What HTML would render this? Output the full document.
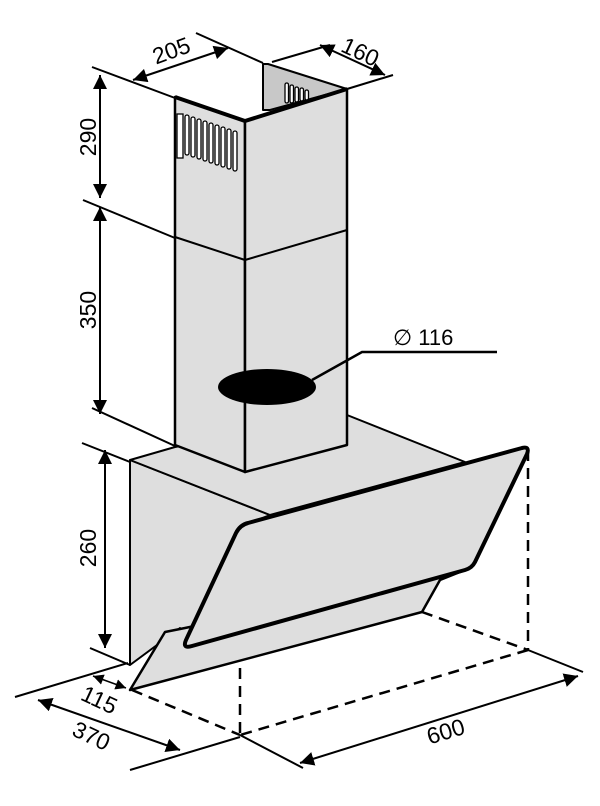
<!DOCTYPE html>
<html><head><style>html,body{margin:0;padding:0;background:#fff}svg{display:block}</style></head>
<body>
<svg width="600" height="806" viewBox="0 0 600 806" xmlns="http://www.w3.org/2000/svg" font-family="Liberation Sans, sans-serif">
<defs>
<marker id="a" viewBox="0 0 10 10" refX="10" refY="5" markerWidth="7" markerHeight="7" orient="auto-start-reverse"><path d="M0,0 L10,5 L0,10 z" fill="#000"/></marker>
</defs>
<g stroke="#000" fill="#dedede" stroke-linejoin="round">
<polygon points="130,460 270,515 245,525 185,648 180,628 130,665" stroke-width="2"/>
<polygon points="130,460 175,447 347,415 465,462 270,515" stroke-width="2"/>
<polygon points="130,690 165,632 185,628 470,568 440,580 422,612" stroke-width="2.5"/>
<path d="M248,523 L522,448 Q530,446 527,454 L475,562 Q472,568 465,570 L192,646 Q182,649 186,640 L236,533 Q240,525 248,523 Z" stroke-width="4"/>
<polygon points="263,64 268,64 347,89 270,110 263,110" fill="#c8c8c8" stroke-width="2"/>
<polygon points="175,97 245,121 245,472 175,445" stroke-width="2.5"/>
<polygon points="245,121 347,89 347,445 245,472" stroke-width="2.5"/>
<line x1="175" y1="237" x2="245" y2="260" stroke-width="2"/>
<line x1="245" y1="260" x2="347" y2="230" stroke-width="2"/>
<line x1="175" y1="97" x2="245" y2="121" stroke-width="4"/>
<line x1="245" y1="121" x2="347" y2="89" stroke-width="4"/>
</g>
<g fill="#fff" stroke="#000" stroke-width="1.3">
<rect x="177" y="114" width="6" height="44"/>
<rect x="185" y="115" width="4" height="40" rx="2"/>
<rect x="191" y="117" width="4" height="40" rx="2"/>
<rect x="197" y="119" width="4" height="40" rx="2"/>
<rect x="203" y="121" width="4" height="40" rx="2"/>
<rect x="209" y="123" width="4" height="40" rx="2"/>
<rect x="215" y="125" width="4" height="40" rx="2"/>
<rect x="221" y="127" width="4" height="40" rx="2"/>
<rect x="227" y="129" width="4" height="40" rx="2"/>
<rect x="233" y="131" width="4" height="40" rx="2"/>
<rect x="285" y="83" width="3.5" height="20" rx="1.7"/>
<rect x="290" y="85" width="3.5" height="18" rx="1.7"/>
<rect x="295" y="87" width="3.5" height="15" rx="1.7"/>
<rect x="300" y="88" width="3.5" height="13" rx="1.7"/>
<rect x="305" y="90" width="3.5" height="10" rx="1.7"/>
</g>
<ellipse cx="267" cy="387" rx="49" ry="18"/>
<polyline points="312,380 362,352 497,352" fill="none" stroke="#000" stroke-width="2.5"/>
<text x="393" y="345" font-size="22">∅ 116</text>
<g stroke="#000" stroke-width="2.5" stroke-dasharray="11,7" fill="none">
<line x1="422" y1="612" x2="528" y2="650"/>
<line x1="528" y1="450" x2="528" y2="650"/>
<line x1="528" y1="650" x2="240" y2="735"/>
<line x1="132" y1="690" x2="240" y2="735"/>
<line x1="240" y1="668" x2="240" y2="735"/>
</g>
<g stroke="#000" stroke-width="2" fill="none">
<line x1="240" y1="735" x2="303" y2="768"/>
<line x1="528" y1="650" x2="583" y2="672"/>
<line x1="300" y1="763" x2="578" y2="676" marker-start="url(#a)" marker-end="url(#a)"/>
<line x1="15" y1="697" x2="128" y2="663"/>
<line x1="130" y1="770" x2="240" y2="737"/>
<line x1="38" y1="700" x2="180" y2="750" marker-start="url(#a)" marker-end="url(#a)"/>
<line x1="93" y1="676" x2="126" y2="688" stroke-width="1.5" marker-start="url(#a)" marker-end="url(#a)"/>
<line x1="82" y1="443" x2="130" y2="462"/>
<line x1="90" y1="648" x2="130" y2="665"/>
<line x1="105" y1="450" x2="105" y2="648" marker-start="url(#a)" marker-end="url(#a)"/>
<line x1="92" y1="408" x2="175" y2="446"/>
<line x1="100" y1="207" x2="100" y2="414" marker-start="url(#a)" marker-end="url(#a)"/>
<line x1="83" y1="200" x2="175" y2="238"/>
<line x1="100" y1="75" x2="100" y2="198" marker-start="url(#a)" marker-end="url(#a)"/>
<line x1="92" y1="67" x2="175" y2="98"/>
<line x1="196" y1="33" x2="263" y2="63"/>
<line x1="133" y1="80" x2="228" y2="48" marker-start="url(#a)" marker-end="url(#a)"/>
<line x1="272" y1="62" x2="330" y2="45"/>
<line x1="347" y1="89" x2="393" y2="75"/>
<line x1="320" y1="45" x2="385" y2="75" marker-start="url(#a)" marker-end="url(#a)"/>
</g>
<g font-size="23" fill="#000" text-anchor="middle">
<text transform="translate(448,739) rotate(-17)">600</text>
<text transform="translate(88,743) rotate(25)">370</text>
<text transform="translate(96,707) rotate(25)">115</text>
<text transform="translate(96,548) rotate(-90)">260</text>
<text transform="translate(96,310) rotate(-90)">350</text>
<text transform="translate(96,137) rotate(-90)">290</text>
<text transform="translate(174,58) rotate(-20)">205</text>
<text transform="translate(357,59) rotate(25)">160</text>
</g>
</svg>
</body></html>
